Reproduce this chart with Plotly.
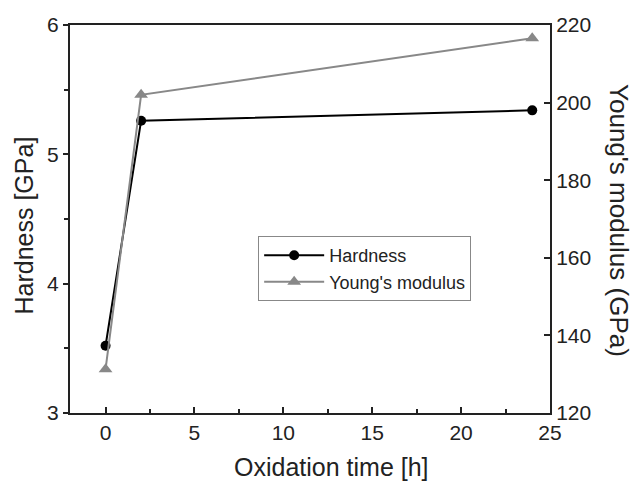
import plotly.graph_objects as go

time_h = [0, 2, 24]
hardness = [3.52, 5.26, 5.34]
youngs = [131.3, 202.0, 216.6]

FONT = "Liberation Sans, Arial, sans-serif"
GRAY = "#888888"

fig = go.Figure()
fig.add_trace(go.Scatter(x=time_h, y=hardness, name="Hardness", mode="lines+markers",
                         line=dict(color="black", width=2),
                         marker=dict(symbol="circle", size=10, color="black")))
fig.add_trace(go.Scatter(x=time_h, y=youngs, name="Young's modulus", mode="lines+markers",
                         yaxis="y2",
                         line=dict(color=GRAY, width=2),
                         marker=dict(symbol="triangle-up", size=12, color=GRAY)))

fig.update_layout(
    width=634, height=481,
    margin=dict(l=70, r=84, t=25, b=68),
    paper_bgcolor="white", plot_bgcolor="white",
    font=dict(family=FONT, color="#222222"),
    showlegend=True,
    legend=dict(x=0.392, y=0.456, xanchor="left", yanchor="top",
                bordercolor=GRAY, borderwidth=1, bgcolor="white",
                font=dict(size=18, family=FONT), tracegroupgap=0, itemwidth=60),
    xaxis=dict(range=[-2, 25], dtick=5, tick0=0, ticks="inside", ticklen=6, tickwidth=2,
               tickcolor="#222222", showline=True, linecolor="#222222", linewidth=2,
               mirror=True, showgrid=False, zeroline=False,
               tickfont=dict(size=21),
               minor=dict(dtick=2.5, tick0=0, ticks="inside", ticklen=4, tickwidth=2,
                          tickcolor="#222222", showgrid=False)),
    yaxis=dict(range=[3, 6], dtick=1, ticks="outside", ticklen=5, tickwidth=2,
               tickcolor="#222222", showline=True, linecolor="#222222", linewidth=2,
               showgrid=False, zeroline=False, tickfont=dict(size=21),
               minor=dict(dtick=0.5, ticks="outside", ticklen=4, tickwidth=2,
                          tickcolor="#222222", showgrid=False)),
    yaxis2=dict(range=[120, 220], dtick=20, overlaying="y", side="right",
                ticks="inside", ticklen=6, tickwidth=2, tickcolor="#222222",
                showline=True, linecolor="#222222", linewidth=2,
                showgrid=False, zeroline=False, tickfont=dict(size=21)),
    annotations=[
        dict(text="Hardness [GPa]", xref="paper", yref="paper", x=-0.096, y=0.483,
             xanchor="center", yanchor="middle", textangle=-90, showarrow=False,
             font=dict(size=25, family=FONT)),
        dict(text="Young's modulus (GPa)", xref="paper", yref="paper", x=1.144, y=0.497,
             xanchor="center", yanchor="middle", textangle=90, showarrow=False,
             font=dict(size=26, family=FONT)),
        dict(text="Oxidation time [h]", xref="paper", yref="paper", x=0.545, y=-0.139,
             xanchor="center", yanchor="middle", showarrow=False,
             font=dict(size=25, family=FONT)),
    ],
)

fig.write_html("out.html")
